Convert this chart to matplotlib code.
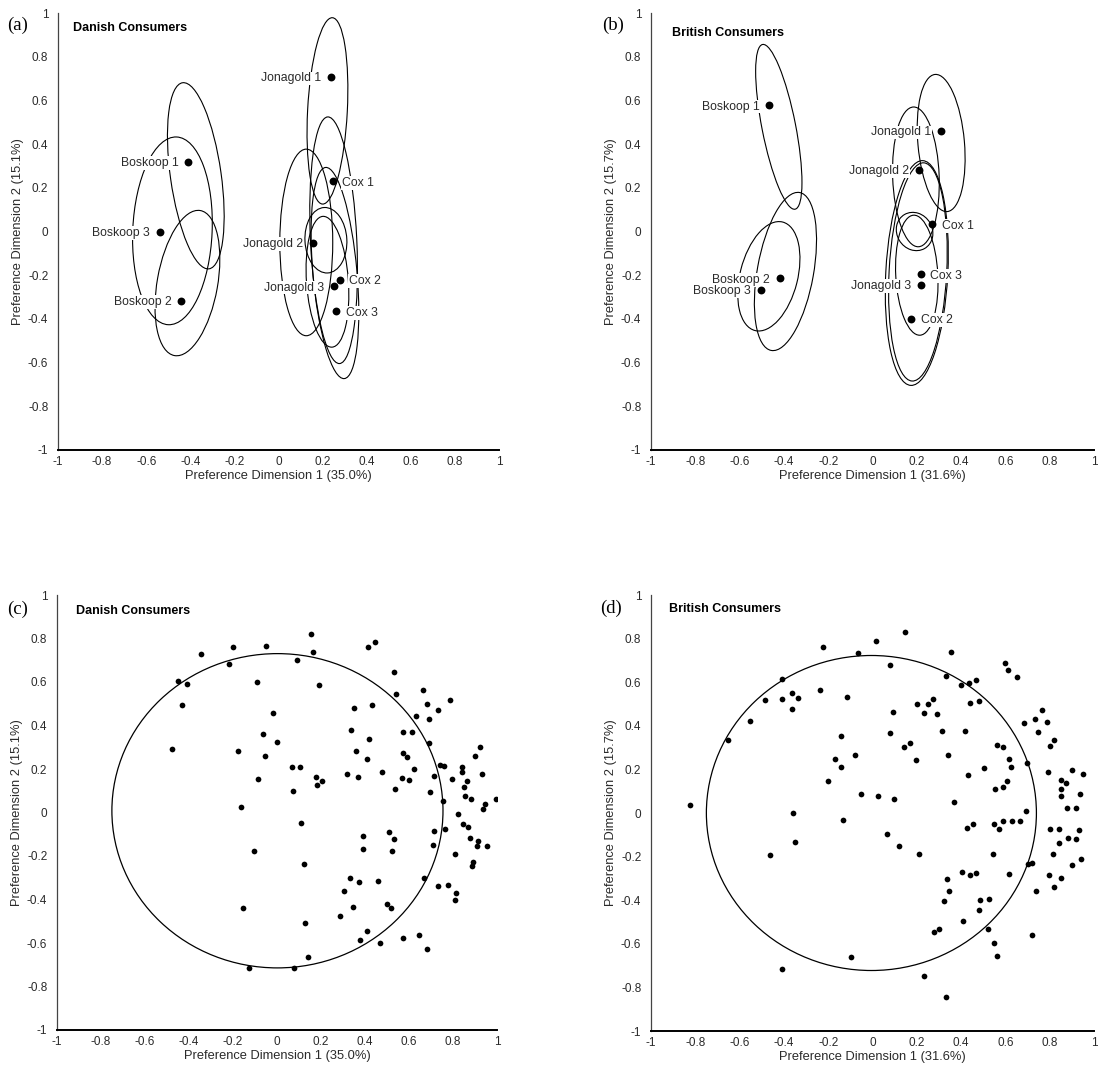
import matplotlib
matplotlib.use('Agg')
import matplotlib.pyplot as plt
from matplotlib.patches import Ellipse
import numpy as np

# ---------------- data ----------------
# Panel (a) Danish consumers: products
a_names = ['Jonagold 1', 'Boskoop 1', 'Cox 1', 'Boskoop 3', 'Jonagold 2',
           'Cox 2', 'Jonagold 3', 'Boskoop 2', 'Cox 3']
a_x = [0.238, -0.410, 0.245, -0.539, 0.157, 0.277, 0.251, -0.442, 0.260]
a_y = [0.707, 0.320, 0.229, 0.000, -0.052, -0.220, -0.250, -0.317, -0.366]
a_side = ['left', 'left', 'right', 'left', 'left', 'right', 'left', 'left', 'right']
# confidence ellipses: centre x, centre y, minor, major, tilt (deg)
a_ell_cx = [-0.375, -0.481, -0.413, 0.222, 0.250, 0.126, 0.256, 0.215, 0.222]
a_ell_cy = [0.255, 0.003, -0.236, 0.552, -0.040, -0.050, -0.190, -0.040, -0.230]
a_ell_w = [0.23, 0.36, 0.274, 0.18, 0.21, 0.24, 0.20, 0.19, 0.19]
a_ell_h = [0.86, 0.86, 0.674, 0.854, 1.13, 0.854, 0.97, 0.30, 0.60]
a_ell_ang = [8, -2.5, -10, -3, 2.7, 0, 5, 3, 4]

# Panel (b) British consumers: products
b_names = ['Boskoop 1', 'Jonagold 1', 'Jonagold 2', 'Cox 1', 'Boskoop 2',
           'Boskoop 3', 'Cox 3', 'Jonagold 3', 'Cox 2']
b_x = [-0.466, 0.310, 0.208, 0.270, -0.418, -0.505, 0.217, 0.220, 0.174]
b_y = [0.578, 0.460, 0.283, 0.033, -0.215, -0.266, -0.196, -0.244, -0.400]
b_side = ['left', 'left', 'left', 'right', 'left', 'left', 'right', 'left', 'right']
b_ell_cx = [-0.423, -0.393, -0.468, 0.310, 0.196, 0.190, 0.200, 0.205, 0.200]
b_ell_cy = [0.479, -0.183, -0.205, 0.405, 0.250, 0.000, -0.190, -0.185, -0.200]
b_ell_w = [0.152, 0.254, 0.26, 0.21, 0.21, 0.16, 0.28, 0.26, 0.19]
b_ell_h = [0.768, 0.734, 0.512, 0.63, 0.64, 0.18, 1.03, 1.00, 0.55]
b_ell_ang = [11, -10, -14, 5, 2, 30, -3, -3, 3]

# Panel (c) Danish consumers: individual consumers
c_x = [0.153, 0.164, 0.091, 0.413, 0.446, 0.191, 0.530, 0.540, 0.663, 0.786,
       -0.017, 0.349, 0.434, 0.683, 0.730, 0.630, 0.689, 0.335, 0.574, 0.615,
       0.000, 0.419, 0.692, 0.361, 0.411, 0.574, 0.592, 0.742, 0.759, 0.923,
       0.900, 0.068, 0.106, 0.475, 0.621, 0.842, 0.842, 0.933, 0.176, 0.184,
       0.206, 0.319, 0.369, 0.569, 0.601, 0.715, 0.794, 0.862, 0.851, 0.074,
       0.536, 0.697, 0.756, 0.853, 0.883, 0.997, 0.944, 0.938, 0.822, 0.109,
       0.713, 0.765, 0.845, 0.866, 0.393, 0.511, 0.531, 0.876, 0.915, 0.907,
       0.953, 0.710, 0.393, 0.522, 0.123, 0.809, 0.892, 0.885,
       0.669, 0.334, 0.373, 0.458, 0.730, 0.777, 0.813, 0.807, 0.305, 0.347,
       0.501, 0.517, 0.126, 0.288, 0.407, 0.378, 0.469, 0.574, 0.645, 0.683,
       0.140, 0.076,
       -0.344, -0.200, -0.049, -0.220, -0.452, -0.407, -0.093, -0.434, -0.064,
       -0.478, -0.176, -0.053, -0.088, -0.164, -0.105, -0.153, -0.126]
c_y = [0.819, 0.740, 0.700, 0.760, 0.783, 0.587, 0.646, 0.545, 0.565, 0.516,
       0.459, 0.482, 0.496, 0.499, 0.473, 0.443, 0.430, 0.378, 0.372, 0.372,
       0.323, 0.340, 0.320, 0.282, 0.247, 0.273, 0.256, 0.217, 0.213, 0.300,
       0.262, 0.210, 0.210, 0.188, 0.202, 0.207, 0.185, 0.176, 0.161, 0.126,
       0.147, 0.178, 0.161, 0.158, 0.150, 0.167, 0.153, 0.144, 0.119, 0.101,
       0.107, 0.093, 0.054, 0.075, 0.060, 0.063, 0.041, 0.018, -0.006, -0.046,
       -0.086, -0.077, -0.052, -0.066, -0.110, -0.090, -0.123, -0.118, -0.130, -0.155,
       -0.153, -0.150, -0.170, -0.179, -0.237, -0.191, -0.227, -0.248,
       -0.300, -0.300, -0.320, -0.316, -0.336, -0.332, -0.369, -0.403, -0.361, -0.433,
       -0.421, -0.438, -0.510, -0.478, -0.545, -0.587, -0.600, -0.577, -0.564, -0.628,
       -0.665, -0.717,
       0.727, 0.763, 0.767, 0.681, 0.603, 0.593, 0.602, 0.496, 0.361,
       0.291, 0.285, 0.260, 0.153, 0.026, -0.179, -0.438, -0.714]

# Panel (d) British consumers: individual consumers
d_x = [0.145, 0.018, -0.066, 0.355, 0.079, 0.596, 0.612, 0.652, 0.331, 0.400,
       0.436, 0.467, -0.115, 0.272, 0.252, 0.203, 0.440, 0.479, 0.093, 0.234,
       0.290, 0.766, 0.733, 0.685, 0.790, 0.749, -0.140, 0.079, 0.312, 0.419,
       0.140, 0.169, 0.821, 0.801, 0.561, 0.587, -0.079, 0.340, 0.197, 0.615,
       0.624, 0.696, 0.504, -0.143, 0.791, 0.899, 0.949, 0.430, 0.609, 0.590,
       0.555, 0.849, 0.873, 0.849, 0.851, 0.939, -0.054, 0.024, 0.097, 0.370,
       0.694, 0.879, 0.919, -0.131, 0.454, 0.427, 0.548, 0.569, 0.590, 0.628,
       0.667, 0.803, 0.840, 0.931, 0.882, 0.918, 0.843, 0.066, 0.121, 0.212,
       0.542, 0.816, 0.940, 0.901, 0.703, 0.722,
       0.616, 0.739, 0.797, 0.851, 0.821, 0.403, 0.442, 0.466, 0.336, 0.345,
       0.321, 0.485, 0.525, 0.479, 0.407, 0.522, 0.279, 0.299, 0.549, 0.560,
       0.719, -0.097, 0.231, 0.334,
       -0.225, -0.409, -0.239, -0.485, -0.410, -0.363, -0.364, -0.336, -0.552,
       -0.652, -0.170, -0.199, -0.822, -0.357, -0.348, -0.461, -0.408]
d_y = [0.830, 0.787, 0.732, 0.737, 0.677, 0.687, 0.656, 0.622, 0.630, 0.589,
       0.595, 0.610, 0.534, 0.523, 0.500, 0.502, 0.505, 0.512, 0.465, 0.460,
       0.456, 0.474, 0.433, 0.414, 0.419, 0.370, 0.353, 0.369, 0.376, 0.376,
       0.303, 0.323, 0.335, 0.307, 0.310, 0.304, 0.266, 0.265, 0.243, 0.246,
       0.209, 0.231, 0.208, 0.211, 0.190, 0.196, 0.180, 0.173, 0.148, 0.118,
       0.110, 0.151, 0.136, 0.109, 0.078, 0.087, 0.087, 0.078, 0.066, 0.050,
       0.009, 0.021, 0.021, -0.034, -0.049, -0.069, -0.049, -0.073, -0.035, -0.037,
       -0.037, -0.075, -0.075, -0.076, -0.113, -0.119, -0.139, -0.098, -0.150, -0.190,
       -0.190, -0.190, -0.209, -0.237, -0.235, -0.231,
       -0.280, -0.358, -0.284, -0.296, -0.339, -0.269, -0.283, -0.274, -0.301, -0.358,
       -0.404, -0.398, -0.395, -0.446, -0.495, -0.531, -0.544, -0.533, -0.598, -0.657,
       -0.560, -0.661, -0.748, -0.844,
       0.763, 0.615, 0.564, 0.518, 0.523, 0.479, 0.549, 0.528, 0.420,
       0.333, 0.246, 0.147, 0.035, -0.002, -0.135, -0.193, -0.714]

# correlation-type circle (centre x, centre y, width, height)
c_circle = (0.002, 0.008, 1.505, 1.445)
d_circle = (-0.005, 0.000, 1.490, 1.445)

tick_vals = [-1, -0.8, -0.6, -0.4, -0.2, 0, 0.2, 0.4, 0.6, 0.8, 1]
tick_labels = ['-1', '-0.8', '-0.6', '-0.4', '-0.2', '0', '0.2', '0.4', '0.6', '0.8', '1']

# ---------------- figure ----------------
W, H = 1098, 1067
fig = plt.figure(figsize=(W / 100, H / 100), dpi=100)
SANS = ['Liberation Sans', 'DejaVu Sans']
SERIF = ['Liberation Serif', 'DejaVu Serif']
TXT = '#2a2a2a'


def px_axes(x0, x1, y0, y1):
    return fig.add_axes([x0 / W, 1 - y1 / H, (x1 - x0) / W, (y1 - y0) / H])


def style(ax, xlabel, ylabel):
    ax.set_xlim(-1, 1)
    ax.set_ylim(-1, 1)
    ax.set_xticks(tick_vals)
    ax.set_yticks(tick_vals)
    ax.set_xticklabels(tick_labels, family=SANS, fontsize=8.5, color=TXT)
    ax.set_yticklabels(tick_labels, family=SANS, fontsize=8.5, color=TXT)
    ax.tick_params(axis='both', length=0)
    ax.tick_params(axis='x', pad=4)
    ax.tick_params(axis='y', pad=7)
    for s in ('top', 'right'):
        ax.spines[s].set_visible(False)
    ax.spines['left'].set_linewidth(0.9)
    ax.spines['left'].set_color('#444444')
    ax.spines['bottom'].set_linewidth(1.4)
    ax.set_xlabel(xlabel, family=SANS, fontsize=9.3, color=TXT, labelpad=2)
    ax.set_ylabel(ylabel, family=SANS, fontsize=9.3, color=TXT, labelpad=3)
    ax.patch.set_alpha(0)


def product_panel(ax, names, xs, ys, sides, ecx, ecy, ew, eh, ea):
    for cx, cy, w, h, ang in zip(ecx, ecy, ew, eh, ea):
        ax.add_patch(Ellipse((cx, cy), w, h, angle=ang, fill=False,
                             lw=0.8, ec='black', zorder=2))
    ax.scatter(xs, ys, s=32, c='black', zorder=5, linewidths=0)
    for n, x, y, sd in zip(names, xs, ys, sides):
        off = -7 if sd == 'left' else 7
        ax.annotate(n, (x, y), xytext=(off, -1), textcoords='offset points',
                    ha='right' if sd == 'left' else 'left', va='center',
                    family=SANS, fontsize=8.8, color=TXT, zorder=4,
                    bbox=dict(fc='white', ec='none', pad=0.6))


def consumer_panel(ax, xs, ys, circ):
    cx, cy, w, h = circ
    ax.add_patch(Ellipse((cx, cy), w, h, fill=False, lw=0.9, ec='black', zorder=2))
    ax.scatter(xs, ys, s=17, c='black', zorder=3, linewidths=0)


xl1 = 'Preference Dimension 1 (35.0%)'
yl1 = 'Preference Dimension 2 (15.1%)'
xl2 = 'Preference Dimension 1 (31.6%)'
yl2 = 'Preference Dimension 2 (15.7%)'

ax_a = px_axes(58, 499, 13, 450)
style(ax_a, xl1, yl1)
product_panel(ax_a, a_names, a_x, a_y, a_side, a_ell_cx, a_ell_cy, a_ell_w, a_ell_h, a_ell_ang)

ax_b = px_axes(651, 1094, 13, 450)
style(ax_b, xl2, yl2)
product_panel(ax_b, b_names, b_x, b_y, b_side, b_ell_cx, b_ell_cy, b_ell_w, b_ell_h, b_ell_ang)

ax_c = px_axes(57, 497, 595, 1030)
style(ax_c, xl1, yl1)
consumer_panel(ax_c, c_x, c_y, c_circle)

ax_d = px_axes(651, 1094, 595, 1031)
style(ax_d, xl2, yl2)
consumer_panel(ax_d, d_x, d_y, d_circle)

# panel letters
for lab, (px, py) in zip(['(a)', '(b)', '(c)', '(d)'],
                         [(7, 25), (602, 25), (7, 609), (600, 608)]):
    fig.text(px / W, 1 - py / H, lab, family=SERIF, fontsize=13.5, va='center', ha='left')

# panel titles
ax_a.text(0.034, 0.966, 'Danish Consumers', transform=ax_a.transAxes, family=SANS,
          fontsize=9, fontweight='bold', va='center', ha='left')
ax_b.text(0.047, 0.954, 'British Consumers', transform=ax_b.transAxes, family=SANS,
          fontsize=9, fontweight='bold', va='center', ha='left')
ax_c.text(0.043, 0.963, 'Danish Consumers', transform=ax_c.transAxes, family=SANS,
          fontsize=9, fontweight='bold', va='center', ha='left')
ax_d.text(0.041, 0.968, 'British Consumers', transform=ax_d.transAxes, family=SANS,
          fontsize=9, fontweight='bold', va='center', ha='left')

fig.savefig('out.png', dpi=100, facecolor='white')
